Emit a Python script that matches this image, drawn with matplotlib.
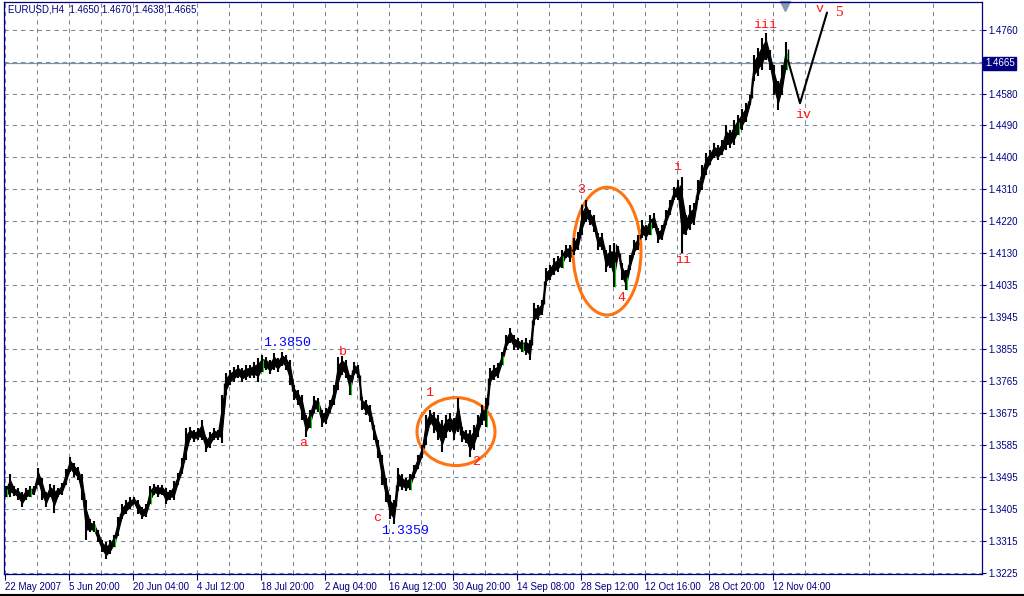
import numpy as np
import matplotlib
matplotlib.use("Agg")
import matplotlib.pyplot as plt
from matplotlib.patches import Ellipse

# --------------------------------------------------------------------
# EURUSD H4, one entry = ~4 H4 bars (high / low)
highs = [1.3471, 1.3503, 1.3469, 1.3466, 1.3452, 1.3466, 1.3469, 1.3469, 1.3522, 1.3494,
         1.3452, 1.3477, 1.3474, 1.3466, 1.3480, 1.3517, 1.3553, 1.3536, 1.3525, 1.3503,
         1.3432, 1.3376, 1.3370, 1.3347, 1.3319, 1.3311, 1.3319, 1.3333, 1.3384, 1.3418,
         1.3432, 1.3438, 1.3440, 1.3432, 1.3412, 1.3418, 1.3471, 1.3477, 1.3474, 1.3474,
         1.3466, 1.3460, 1.3483, 1.3508, 1.3550, 1.3635, 1.3638, 1.3629, 1.3635, 1.3658,
         1.3610, 1.3624, 1.3635, 1.3629, 1.3728, 1.3790, 1.3799, 1.3807, 1.3813, 1.3804,
         1.3813, 1.3813, 1.3821, 1.3832, 1.3841, 1.3835, 1.3827, 1.3847, 1.3832, 1.3849,
         1.3841, 1.3827, 1.3756, 1.3742, 1.3728, 1.3672, 1.3686, 1.3725, 1.3720, 1.3686,
         1.3691, 1.3714, 1.3756, 1.3835, 1.3838, 1.3827, 1.3785, 1.3821, 1.3813, 1.3722,
         1.3714, 1.3700, 1.3644, 1.3601, 1.3559, 1.3494, 1.3446, 1.3432, 1.3522, 1.3503,
         1.3494, 1.3503, 1.3531, 1.3559, 1.3587, 1.3672, 1.3686, 1.3680, 1.3672, 1.3658,
         1.3672, 1.3677, 1.3663, 1.3720, 1.3638, 1.3629, 1.3629, 1.3644, 1.3672, 1.3700,
         1.3720, 1.3804, 1.3813, 1.3818, 1.3849, 1.3897, 1.3917, 1.3897, 1.3889, 1.3883,
         1.3889, 1.3883, 1.3988, 1.3982, 1.3996, 1.4086, 1.4095, 1.4114, 1.4120, 1.4137,
         1.4151, 1.4151, 1.4171, 1.4188, 1.4264, 1.4278, 1.4250, 1.4236, 1.4185, 1.4185,
         1.4137, 1.4151, 1.4157, 1.4148, 1.4100, 1.4081, 1.4123, 1.4165, 1.4179, 1.4222,
         1.4207, 1.4236, 1.4241, 1.4199, 1.4207, 1.4250, 1.4278, 1.4315, 1.4334, 1.4343,
         1.4236, 1.4264, 1.4270, 1.4334, 1.4377, 1.4411, 1.4419, 1.4439, 1.4433, 1.4447,
         1.4490, 1.4475, 1.4504, 1.4518, 1.4537, 1.4552, 1.4574, 1.4687, 1.4709, 1.4735,
         1.4749, 1.4701, 1.4659, 1.4616, 1.4659, 1.4724]
lows = [1.3438, 1.3440, 1.3443, 1.3432, 1.3412, 1.3432, 1.3440, 1.3446, 1.3474, 1.3432,
        1.3412, 1.3440, 1.3395, 1.3440, 1.3446, 1.3474, 1.3511, 1.3497, 1.3488, 1.3432,
        1.3319, 1.3339, 1.3339, 1.3311, 1.3283, 1.3263, 1.3277, 1.3299, 1.3328, 1.3376,
        1.3390, 1.3404, 1.3418, 1.3390, 1.3376, 1.3384, 1.3418, 1.3446, 1.3440, 1.3446,
        1.3418, 1.3432, 1.3432, 1.3474, 1.3503, 1.3545, 1.3601, 1.3596, 1.3601, 1.3601,
        1.3567, 1.3579, 1.3601, 1.3601, 1.3593, 1.3728, 1.3756, 1.3765, 1.3776, 1.3765,
        1.3770, 1.3776, 1.3776, 1.3765, 1.3793, 1.3799, 1.3787, 1.3799, 1.3793, 1.3810,
        1.3799, 1.3756, 1.3714, 1.3700, 1.3658, 1.3610, 1.3635, 1.3677, 1.3680, 1.3638,
        1.3646, 1.3677, 1.3700, 1.3742, 1.3785, 1.3776, 1.3728, 1.3785, 1.3776, 1.3686,
        1.3672, 1.3652, 1.3601, 1.3550, 1.3474, 1.3424, 1.3376, 1.3362, 1.3455, 1.3460,
        1.3455, 1.3460, 1.3494, 1.3517, 1.3550, 1.3587, 1.3644, 1.3621, 1.3601, 1.3565,
        1.3607, 1.3624, 1.3601, 1.3624, 1.3596, 1.3593, 1.3553, 1.3573, 1.3610, 1.3644,
        1.3638, 1.3756, 1.3770, 1.3776, 1.3813, 1.3855, 1.3875, 1.3855, 1.3855, 1.3849,
        1.3841, 1.3827, 1.3926, 1.3940, 1.3954, 1.4038, 1.4052, 1.4067, 1.4075, 1.4086,
        1.4114, 1.4103, 1.4123, 1.4137, 1.4179, 1.4216, 1.4207, 1.4188, 1.4137, 1.4137,
        1.4075, 1.4086, 1.4033, 1.4123, 1.4052, 1.4024, 1.4081, 1.4123, 1.4137, 1.4171,
        1.4165, 1.4179, 1.4199, 1.4157, 1.4165, 1.4207, 1.4236, 1.4278, 1.4278, 1.4129,
        1.4179, 1.4193, 1.4207, 1.4278, 1.4306, 1.4349, 1.4377, 1.4396, 1.4391, 1.4405,
        1.4419, 1.4425, 1.4433, 1.4461, 1.4475, 1.4498, 1.4546, 1.4616, 1.4630, 1.4645,
        1.4673, 1.4645, 1.4574, 1.4532, 1.4574, 1.4645]
doji_idx = [0, 6, 22, 27, 36, 64, 76, 78, 86, 101, 120, 124, 129, 139, 152, 155, 161, 183, 195]

# hand drawn projection (iv -> v)
proj_bars = [788, 800, 827]
proj_price = [1.4673, 1.4552, 1.4808]

price_ticks = ["1.4760", "", "1.4580", "1.4490", "1.4400", "1.4310", "1.4220", "1.4130", "1.4035",
               "1.3945", "1.3855", "1.3765", "1.3675", "1.3585", "1.3495", "1.3405", "1.3315", "1.3225"]
date_ticks = ["22 May 2007", "5 Jun 20:00", "20 Jun 04:00", "4 Jul 12:00", "18 Jul 20:00",
              "2 Aug 04:00", "16 Aug 12:00", "30 Aug 20:00", "14 Sep 08:00", "28 Sep 12:00",
              "12 Oct 16:00", "28 Oct 20:00", "12 Nov 04:00"]
last_price = 1.4665

# wave labels: text, bar, price, colour
labels = [("1.3850", 287, 1.3875, "blue"), ("1.3359", 405, 1.3342, "blue"),
          ("a", 303, 1.3593, "red"), ("b", 343, 1.3849, "red"), ("c", 377, 1.3381, "red"),
          ("1", 429, 1.3734, "red"), ("2", 476, 1.3539, "red"), ("3", 581, 1.4306, "red"),
          ("4", 621, 1.4002, "red"), ("i", 677, 1.4371, "red"), ("ii", 683, 1.4109, "red"),
          ("iii", 765, 1.4774, "red"), ("iv", 803, 1.4518, "red"), ("v", 820, 1.4817, "red")]

# --------------------------------------------------------------------
NAVY = "#000080"
GRID = "#778899"
plt.rcParams['font.family'] = ['Liberation Sans', 'DejaVu Sans']

fig = plt.figure(figsize=(10.24, 5.96), dpi=100)
ax = fig.add_axes([4 / 1024, 22.5 / 596, 978 / 1024, 571.5 / 596])

bars = 6 + 4 * np.arange(len(highs))
hi = np.array(highs)
lo = np.array(lows)
rng = hi - lo
# dense H4 bars: a core band joining neighbouring bars, the bar ranges on top as whiskers
ax.fill_between(bars, lo + 0.25 * rng, hi - 0.25 * rng, color="black", linewidth=0.8, edgecolor="black")
ax.vlines(bars, lo, hi, colors="black", linewidth=1.5)
ax.vlines(bars + 2, np.minimum(hi[:-1].tolist() + [hi[-1]], hi.tolist()[1:] + [hi[-1]]) - 0.25 * rng,
          np.maximum(lo[:-1].tolist() + [lo[-1]], lo.tolist()[1:] + [lo[-1]]) + 0.25 * rng,
          colors="black", linewidth=1.0)
ax.vlines(bars[doji_idx] + 0.5, lo[doji_idx], (lo[doji_idx] + hi[doji_idx]) / 2 + 0.0008,
          colors="#00E000", linewidth=0.8)
ax.plot(proj_bars, proj_price, color="black", linewidth=1.5, solid_capstyle="round")

ax.axhline(last_price, color="#8090A0", linewidth=0.9, zorder=0.5)

ax.add_patch(Ellipse((456, 1.3624), 78, 0.0192, fill=False, edgecolor="#FF7410", linewidth=2.2))
ax.add_patch(Ellipse((607, 1.4134), 68, 0.0361, fill=False, edgecolor="#FF7410", linewidth=2.2))

for txt, bx, py, col in labels:
    c = "#0000FF" if col == "blue" else "#FF1010"
    ax.text(bx, py, txt, color=c, fontsize=9.5, family="Liberation Mono", ha="center", va="center")
ax.text(839, 1.4808, "5", color="#FF1010", fontsize=11, family="Liberation Serif", ha="center", va="center")

# axes / grid
step = 0.1535 / 17
ylev = 1.4760 - step * np.arange(len(price_ticks))
ax.set_ylim(1.3225 - 0.0002, 1.4838)
ax.set_xlim(4, 982)
ax.set_yticks(ylev)
ax.set_yticklabels(price_ticks)
ax.set_xticks(5 + 64 * np.arange(len(date_ticks)))
ax.set_xticklabels(date_ticks, ha="left")
ax.set_xticks(37 + 64 * np.arange(15), minor=True)
ax.grid(True, which="both", color=GRID, linestyle=(0, (4, 4)), linewidth=0.75)
ax.set_axisbelow(True)
ax.tick_params(axis="y", left=False, right=True, labelleft=False, labelright=True,
               length=3, color=NAVY, labelcolor=NAVY, labelsize=7, pad=1.5)
ax.tick_params(axis="x", which="major", length=4, color=NAVY, labelcolor=NAVY, labelsize=7, pad=2)
ax.tick_params(axis="x", which="minor", length=2, color=NAVY, direction="inout")
for s in ax.spines.values():
    s.set_color(NAVY)
    s.set_linewidth(0.9)

# current price box
ax.text(1.003, last_price, "1.4665", transform=ax.get_yaxis_transform(), color="white", fontsize=7,
        ha="left", va="center", clip_on=False,
        bbox=dict(boxstyle="square,pad=0.15", facecolor=NAVY, edgecolor=NAVY))
# chart shift marker
ax.plot([785], [0.993], marker="v", markersize=7, color="#8497B0", transform=ax.get_xaxis_transform(),
        clip_on=False)

fig.text(8 / 1024, 1 - 9 / 596, "EURUSD,H4  1.4650 1.4670 1.4638 1.4665", color=NAVY, fontsize=7,
         ha="left", va="center")
fig.add_artist(plt.Line2D([0, 1], [1.5 / 596, 1.5 / 596], color="black", linewidth=1.5))

fig.savefig("out.png", dpi=100, facecolor="white")
